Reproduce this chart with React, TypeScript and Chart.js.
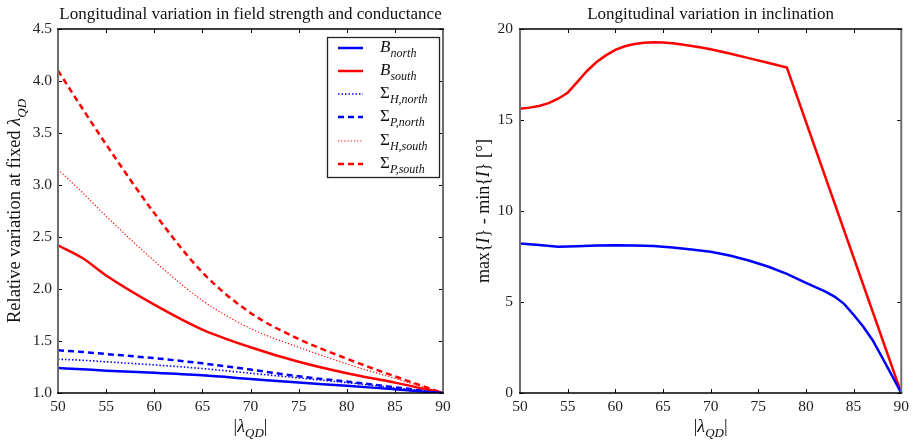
import React, { useEffect, useRef } from "react";
import { Chart, registerables } from "chart.js";

Chart.register(...registerables);

const FONT = "'Liberation Serif', 'DejaVu Serif', serif";

// ---------- Left chart data ----------
const latLeft = [50, 52.5, 55, 60, 65, 70, 75, 80, 85, 90];
const bNorth = [1.24, 1.228, 1.215, 1.195, 1.17, 1.135, 1.1, 1.07, 1.035, 1.0];
const bSouth = [2.42, 2.3, 2.13, 1.85, 1.61, 1.44, 1.3, 1.19, 1.1, 1.0];
const sigmaHNorth = [1.325, 1.315, 1.3, 1.27, 1.235, 1.19, 1.145, 1.1, 1.05, 1.0];
const sigmaPNorth = [1.41, 1.395, 1.375, 1.335, 1.285, 1.225, 1.16, 1.11, 1.055, 1.0];
const sigmaHSouth = [3.15, 2.93, 2.7, 2.27, 1.89, 1.62, 1.44, 1.28, 1.14, 1.0];
const sigmaPSouth = [4.1, 3.74, 3.39, 2.73, 2.16, 1.77, 1.52, 1.33, 1.16, 1.0];

const xTicks = [50, 55, 60, 65, 70, 75, 80, 85, 90];
const yTicksLeft = [1.0, 1.5, 2.0, 2.5, 3.0, 3.5, 4.0, 4.5];
const yTicksRight = [0, 5, 10, 15, 20];

// ---------- Right chart data ----------
const latSouthIncl = [50, 51, 52, 53, 54, 55, 56, 57, 58, 59, 60, 61, 62, 63, 64, 65, 66, 67, 68, 69, 70, 72, 74, 76, 78, 90];
const inclSouth = [15.62, 15.68, 15.77, 15.93, 16.17, 16.5, 17.08, 17.68, 18.17, 18.55, 18.85, 19.05, 19.17, 19.24, 19.27, 19.26, 19.22, 19.15, 19.07, 18.98, 18.89, 18.65, 18.4, 18.15, 17.88, 0];
const latNorthIncl = [50, 52, 54, 56, 58, 60, 62, 64, 66, 68, 70, 72, 74, 76, 78, 80, 82, 83, 84, 85, 86, 87, 88, 89, 90];
const inclNorth = [8.22, 8.13, 8.04, 8.07, 8.1, 8.12, 8.11, 8.08, 8.0, 7.88, 7.76, 7.55, 7.28, 6.95, 6.55, 6.05, 5.58, 5.3, 4.9, 4.3, 3.65, 2.9, 1.95, 0.98, 0];

type Part = { t: string; it?: boolean; sub?: boolean };

function partFont(p: Part, size: number) {
  const s = p.sub ? Math.round(size * 0.72) : size;
  return `${p.it ? "italic " : ""}${s}px ${FONT}`;
}

function drawRich(ctx: CanvasRenderingContext2D, parts: Part[], x: number, y: number, size: number, align: "left" | "center", color = "#111") {
  let w = 0;
  for (const p of parts) {
    ctx.font = partFont(p, size);
    w += ctx.measureText(p.t).width;
  }
  let cx = align === "center" ? x - w / 2 : x;
  ctx.textAlign = "left";
  ctx.textBaseline = "alphabetic";
  ctx.fillStyle = color;
  for (const p of parts) {
    ctx.font = partFont(p, size);
    ctx.fillText(p.t, cx, y + (p.sub ? size * 0.3 : 0));
    cx += ctx.measureText(p.t).width;
  }
}

const xTitleParts: Part[] = [{ t: "|" }, { t: "λ", it: true }, { t: "QD", it: true, sub: true }, { t: "|" }];

type FrameCfg = {
  xTicks: number[];
  yTicks: number[];
  title: string;
  yTitle: Part[];
  yTitleX: number;
  yTitleSize: number;
  legend?: { x1: number; y1: number; x2: number; y2: number; rows: { label: Part[]; ds: number; y: number }[] };
};

function framePlugin(cfg: FrameCfg) {
  return {
    id: "frame",
    afterDraw(chart: any) {
      const { ctx, chartArea: a, scales } = chart;
      ctx.save();
      // inward ticks
      ctx.strokeStyle = "#000";
      ctx.lineWidth = 1;
      const tl = 4;
      for (const v of cfg.xTicks) {
        const x = Math.round(scales.x.getPixelForValue(v)) + 0.5;
        ctx.beginPath();
        ctx.moveTo(x, a.bottom);
        ctx.lineTo(x, a.bottom - tl);
        ctx.moveTo(x, a.top);
        ctx.lineTo(x, a.top + tl);
        ctx.stroke();
      }
      for (const v of cfg.yTicks) {
        const y = Math.round(scales.y.getPixelForValue(v)) + 0.5;
        ctx.beginPath();
        ctx.moveTo(a.left, y);
        ctx.lineTo(a.left + tl, y);
        ctx.moveTo(a.right, y);
        ctx.lineTo(a.right - tl, y);
        ctx.stroke();
      }
      // frame
      ctx.strokeStyle = "#6e6e6e";
      ctx.lineWidth = 2;
      ctx.beginPath();
      ctx.moveTo(a.left, a.top);
      ctx.lineTo(a.left, a.bottom);
      ctx.moveTo(a.right, a.top);
      ctx.lineTo(a.right, a.bottom);
      ctx.stroke();
      ctx.strokeStyle = "#000";
      ctx.lineWidth = 1.3;
      ctx.beginPath();
      ctx.moveTo(a.left - 1, a.top);
      ctx.lineTo(a.right + 1, a.top);
      ctx.moveTo(a.left - 1, a.bottom);
      ctx.lineTo(a.right + 1, a.bottom);
      ctx.stroke();

      const cx = (a.left + a.right) / 2;
      const cy = (a.top + a.bottom) / 2;
      // title
      drawRich(ctx, [{ t: cfg.title }], cx, 19, 17, "center");
      // x title
      drawRich(ctx, xTitleParts, cx, 432, 18, "center");
      // y title
      ctx.save();
      ctx.translate(cfg.yTitleX, cy);
      ctx.rotate(-Math.PI / 2);
      drawRich(ctx, cfg.yTitle, 0, 0, cfg.yTitleSize, "center");
      ctx.restore();

      // legend
      if (cfg.legend) {
        const L = cfg.legend;
        ctx.fillStyle = "#fff";
        ctx.fillRect(L.x1, L.y1, L.x2 - L.x1, L.y2 - L.y1);
        ctx.strokeStyle = "#222";
        ctx.lineWidth = 1.3;
        ctx.strokeRect(L.x1 + 0.5, L.y1 + 0.5, L.x2 - L.x1, L.y2 - L.y1);
        for (const r of L.rows) {
          const ds = chart.data.datasets[r.ds];
          ctx.save();
          ctx.strokeStyle = ds.borderColor;
          ctx.lineWidth = ds.borderWidth;
          ctx.setLineDash(ds.borderDash || []);
          ctx.beginPath();
          ctx.moveTo(L.x1 + 11, r.y);
          ctx.lineTo(L.x1 + 36, r.y);
          ctx.stroke();
          ctx.restore();
          drawRich(ctx, r.label, L.x1 + 53, r.y + 4, 17, "left");
        }
      }
      ctx.restore();
    },
  };
}

function pts(xs: number[], ys: number[]) {
  return xs.map((x, i) => ({ x, y: ys[i] }));
}

function axisOpts(min: number, max: number, ticks: number[], fmt: (v: number) => string, pad: number, fit: (s: any) => void) {
  return {
    type: "linear" as const,
    min,
    max,
    afterBuildTicks: (s: any) => {
      s.ticks = ticks.map((v) => ({ value: v }));
    },
    afterFit: fit,
    grid: { display: false, drawTicks: false, tickLength: 0 },
    border: { display: false },
    ticks: {
      color: "#222",
      font: { family: FONT, size: 15.5 },
      padding: pad,
      maxRotation: 0,
      autoSkip: false,
      callback: (v: any) => fmt(Number(v)),
    },
  };
}

export default function App() {
  const leftRef = useRef<HTMLCanvasElement>(null);
  const rightRef = useRef<HTMLCanvasElement>(null);

  useEffect(() => {
    const common = {
      pointRadius: 0,
      fill: false,
    };
    const left = new Chart(leftRef.current!, {
      type: "line",
      data: {
        datasets: [
          { ...common, data: pts(latLeft, bNorth), borderColor: "#0000ff", borderWidth: 2.5, cubicInterpolationMode: "monotone" },
          { ...common, data: pts(latLeft, bSouth), borderColor: "#ff0000", borderWidth: 2.5, cubicInterpolationMode: "monotone" },
          { ...common, data: pts(latLeft, sigmaHNorth), borderColor: "#0000ff", borderWidth: 1.6, borderDash: [1.5, 2], cubicInterpolationMode: "monotone" },
          { ...common, data: pts(latLeft, sigmaPNorth), borderColor: "#0000ff", borderWidth: 2.5, borderDash: [6, 4], cubicInterpolationMode: "monotone" },
          { ...common, data: pts(latLeft, sigmaHSouth), borderColor: "#ff0000", borderWidth: 1.2, borderDash: [1.2, 2], cubicInterpolationMode: "monotone" },
          { ...common, data: pts(latLeft, sigmaPSouth), borderColor: "#ff0000", borderWidth: 2.5, borderDash: [6, 4], cubicInterpolationMode: "monotone" },
        ] as any,
      },
      options: {
        animation: false,
        responsive: false,
        layout: { padding: { top: 29, right: 14, left: 0, bottom: 0 } },
        plugins: { legend: { display: false }, tooltip: { enabled: false }, title: { display: false } },
        scales: {
          x: axisOpts(50, 90, xTicks, (v) => String(v), 5, (s: any) => { s.height = 50; }),
          y: axisOpts(1, 4.5, yTicksLeft, (v) => v.toFixed(1), 6, (s: any) => { s.width = 58; }),
        },
      } as any,
      plugins: [
        framePlugin({
          xTicks,
          yTicks: yTicksLeft,
          title: "Longitudinal variation in field strength and conductance",
          yTitle: [{ t: "Relative variation at fixed " }, { t: "λ", it: true }, { t: "QD", it: true, sub: true }],
          yTitleX: 20,
          yTitleSize: 18.5,
          legend: {
            x1: 327,
            y1: 37,
            x2: 439,
            y2: 177,
            rows: [
              { label: [{ t: "B", it: true }, { t: "north", it: true, sub: true }], ds: 0, y: 48 },
              { label: [{ t: "B", it: true }, { t: "south", it: true, sub: true }], ds: 1, y: 71 },
              { label: [{ t: "Σ" }, { t: "H,north", it: true, sub: true }], ds: 2, y: 94 },
              { label: [{ t: "Σ" }, { t: "P,north", it: true, sub: true }], ds: 3, y: 117 },
              { label: [{ t: "Σ" }, { t: "H,south", it: true, sub: true }], ds: 4, y: 141 },
              { label: [{ t: "Σ" }, { t: "P,south", it: true, sub: true }], ds: 5, y: 164 },
            ],
          },
        }),
      ],
    });

    const right = new Chart(rightRef.current!, {
      type: "line",
      data: {
        datasets: [
          { ...common, data: pts(latNorthIncl, inclNorth), borderColor: "#0000ff", borderWidth: 2.5, tension: 0 },
          { ...common, data: pts(latSouthIncl, inclSouth), borderColor: "#ff0000", borderWidth: 2.5, tension: 0 },
        ] as any,
      },
      options: {
        animation: false,
        responsive: false,
        layout: { padding: { top: 29, right: 10, left: 0, bottom: 0 } },
        plugins: { legend: { display: false }, tooltip: { enabled: false }, title: { display: false } },
        scales: {
          x: axisOpts(50, 90, xTicks, (v) => String(v), 5, (s: any) => { s.height = 50; }),
          y: axisOpts(0, 20, yTicksRight, (v) => String(v), 7, (s: any) => { s.width = 63; }),
        },
      } as any,
      plugins: [
        framePlugin({
          xTicks,
          yTicks: yTicksRight,
          title: "Longitudinal variation in inclination",
          yTitle: [{ t: "max{" }, { t: "I", it: true }, { t: "} - min{" }, { t: "I", it: true }, { t: "} [°]" }],
          yTitleX: 32,
          yTitleSize: 18,
        }),
      ],
    });

    return () => {
      left.destroy();
      right.destroy();
    };
  }, []);

  return (
    <div style={{ position: "absolute", left: 0, top: 0, width: 914, height: 443, background: "#fff" }}>
      <canvas ref={leftRef} width={457} height={443} style={{ position: "absolute", left: 0, top: 0 }} />
      <canvas ref={rightRef} width={457} height={443} style={{ position: "absolute", left: 457, top: 0 }} />
    </div>
  );
}
